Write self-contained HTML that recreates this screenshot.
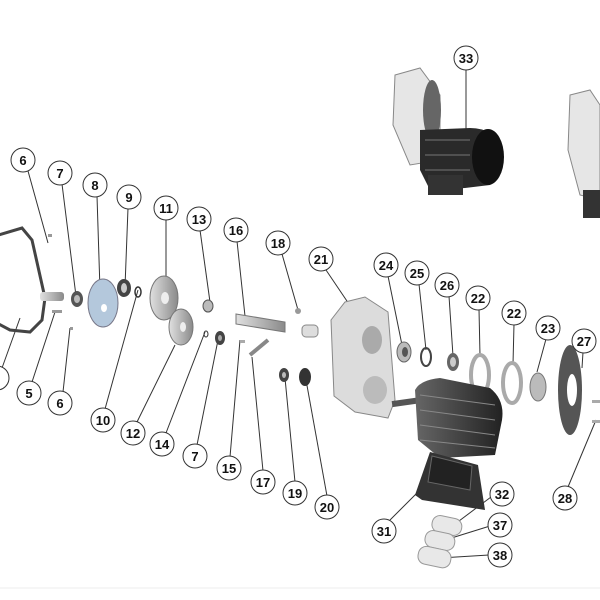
<!DOCTYPE html>
<html><head><style>
html,body{margin:0;padding:0;background:#fff;width:600px;height:600px;overflow:hidden}
svg{display:block}
text{font-family:"Liberation Sans",sans-serif;font-weight:bold;font-size:13px;text-anchor:middle;fill:#111}
.c{fill:#fff;stroke:#333;stroke-width:1}
.l{stroke:#333;stroke-width:1;fill:none}
</style></head><body>
<svg width="600" height="600" viewBox="0 0 600 600">
<defs>
<linearGradient id="g1" x1="0" x2="1"><stop offset="0" stop-color="#e0e0e0"/><stop offset="1" stop-color="#8a8a8a"/></linearGradient>
<linearGradient id="dk" x1="0" x2="1"><stop offset="0" stop-color="#666"/><stop offset="1" stop-color="#222"/></linearGradient>
</defs>
<line x1="0" y1="588" x2="600" y2="588" stroke="#eee"/>
<g class="l">
<line x1="28" y1="171" x2="48" y2="243"/>
<line x1="62" y1="184" x2="76" y2="296"/>
<line x1="97" y1="196" x2="100" y2="290"/>
<line x1="128" y1="208" x2="125" y2="287"/>
<line x1="166" y1="219" x2="166" y2="280"/>
<line x1="200" y1="230" x2="210" y2="302"/>
<line x1="237" y1="241" x2="245" y2="316"/>
<line x1="282" y1="254" x2="298" y2="310"/>
<line x1="326" y1="270" x2="353" y2="310"/>
<line x1="388" y1="276" x2="402" y2="345"/>
<line x1="419" y1="284" x2="426" y2="350"/>
<line x1="449" y1="296" x2="453" y2="356"/>
<line x1="479" y1="309" x2="480" y2="356"/>
<line x1="514" y1="324" x2="513" y2="364"/>
<line x1="546" y1="339" x2="537" y2="372"/>
<line x1="583" y1="352" x2="582" y2="368"/>
<line x1="466" y1="69" x2="466" y2="180"/>
<line x1="2" y1="368" x2="20" y2="318"/>
<line x1="32" y1="382" x2="55" y2="312"/>
<line x1="63" y1="392" x2="70" y2="328"/>
<line x1="105" y1="409" x2="138" y2="290"/>
<line x1="137" y1="422" x2="175" y2="345"/>
<line x1="166" y1="433" x2="205" y2="332"/>
<line x1="197" y1="445" x2="218" y2="340"/>
<line x1="230" y1="457" x2="240" y2="340"/>
<line x1="263" y1="471" x2="252" y2="357"/>
<line x1="295" y1="482" x2="285" y2="378"/>
<line x1="327" y1="496" x2="306" y2="380"/>
<line x1="390" y1="520" x2="420" y2="490"/>
<line x1="491" y1="497" x2="455" y2="524"/>
<line x1="490" y1="526" x2="445" y2="540"/>
<line x1="489" y1="555" x2="440" y2="558"/>
<line x1="568" y1="487" x2="596" y2="420"/>
</g>
<path d="M-5,236 L22,228 L32,240 L45,298 L42,320 L30,332 L10,330 L-5,322 Z" fill="none" stroke="#444" stroke-width="3"/>
<rect x="40" y="292" width="24" height="9" rx="3" fill="url(#g1)"/>
<rect x="48" y="234" width="4" height="3" fill="#999"/>
<rect x="52" y="310" width="10" height="3" fill="#999"/>
<rect x="70" y="327" width="3" height="3" fill="#999"/>
<ellipse cx="77" cy="299" rx="6" ry="8" fill="#555"/><ellipse cx="77" cy="299" rx="3" ry="4" fill="#bbb"/>
<ellipse cx="103" cy="303" rx="15" ry="24" fill="#b4c8dc" stroke="#778"/>
<ellipse cx="104" cy="308" rx="3" ry="4" fill="#fff"/>
<ellipse cx="124" cy="288" rx="7" ry="9" fill="#444"/><ellipse cx="124" cy="288" rx="3" ry="5" fill="#ccc"/>
<ellipse cx="138" cy="292" rx="3" ry="5" fill="none" stroke="#333" stroke-width="1.5"/>
<ellipse cx="164" cy="298" rx="14" ry="22" fill="url(#g1)" stroke="#777"/>
<ellipse cx="165" cy="298" rx="4" ry="6" fill="#eee"/>
<ellipse cx="181" cy="327" rx="12" ry="18" fill="url(#g1)" stroke="#777"/>
<ellipse cx="183" cy="327" rx="3" ry="5" fill="#eee"/>
<ellipse cx="208" cy="306" rx="5" ry="6" fill="#bbb" stroke="#555"/>
<ellipse cx="206" cy="334" rx="2" ry="3" fill="none" stroke="#333"/>
<ellipse cx="220" cy="338" rx="5" ry="7" fill="#444"/><ellipse cx="220" cy="338" rx="2" ry="3" fill="#aaa"/>
<path d="M236,314 L285,322 L285,332 L236,324 Z" fill="url(#g1)" stroke="#777"/>
<rect x="240" y="340" width="5" height="3" fill="#aaa"/>
<line x1="250" y1="355" x2="268" y2="340" stroke="#888" stroke-width="4"/>
<circle cx="298" cy="311" r="3" fill="#999"/>
<rect x="302" y="325" width="16" height="12" rx="4" fill="#ddd" stroke="#888"/>
<ellipse cx="284" cy="375" rx="5" ry="7" fill="#444"/><ellipse cx="284" cy="375" rx="2" ry="3" fill="#bbb"/>
<ellipse cx="305" cy="377" rx="6" ry="9" fill="#333"/>
<path d="M345,302 L365,297 L388,312 L395,400 L388,418 L355,412 L334,396 L331,320 Z" fill="#dcdcdc" stroke="#888"/>
<ellipse cx="372" cy="340" rx="10" ry="14" fill="#aaa"/>
<ellipse cx="375" cy="390" rx="12" ry="14" fill="#bbb"/>
<ellipse cx="404" cy="352" rx="7" ry="10" fill="#bbb" stroke="#666"/><ellipse cx="405" cy="352" rx="3" ry="5" fill="#555"/>
<ellipse cx="426" cy="357" rx="5" ry="9" fill="none" stroke="#444" stroke-width="2"/>
<ellipse cx="453" cy="362" rx="6" ry="9" fill="#666"/><ellipse cx="453" cy="362" rx="3" ry="5" fill="#ccc"/>
<ellipse cx="480" cy="375" rx="9" ry="20" fill="none" stroke="#aaa" stroke-width="4"/>
<ellipse cx="512" cy="383" rx="9" ry="20" fill="none" stroke="#aaa" stroke-width="4"/>
<ellipse cx="538" cy="387" rx="8" ry="14" fill="#bbb" stroke="#777"/>
<ellipse cx="570" cy="390" rx="12" ry="45" fill="#555"/><ellipse cx="572" cy="390" rx="5" ry="16" fill="#fff"/>
<rect x="592" y="400" width="8" height="3" fill="#aaa"/><rect x="592" y="420" width="8" height="3" fill="#aaa"/>
<rect x="392" y="400" width="26" height="6" fill="#555" transform="rotate(-8 400 403)"/>
<path d="M415,390 Q420,380 440,378 L490,388 Q505,400 502,420 L495,455 L440,458 L418,440 Z" fill="url(#dk)"/>
<g stroke="#888" stroke-width="1"><line x1="420" y1="395" x2="495" y2="405"/><line x1="420" y1="410" x2="495" y2="420"/><line x1="420" y1="425" x2="495" y2="435"/><line x1="420" y1="440" x2="495" y2="448"/></g>
<path d="M430,452 L478,465 L485,510 L422,500 L415,495 Z" fill="#333"/>
<path d="M432,456 L472,466 L470,490 L428,482 Z" fill="#222" stroke="#666"/>
<g fill="#e8e8e8" stroke="#999"><rect x="432" y="517" width="30" height="17" rx="8" transform="rotate(12 447 525)"/><rect x="425" y="532" width="30" height="17" rx="8" transform="rotate(12 440 540)"/><rect x="418" y="548" width="33" height="18" rx="8" transform="rotate(12 434 557)"/></g>
<path d="M395,75 L420,68 L440,95 L440,160 L410,165 L393,125 Z" fill="#e6e6e6" stroke="#888"/>
<ellipse cx="432" cy="110" rx="9" ry="30" fill="#666"/>
<path d="M420,130 L470,128 Q495,128 502,150 Q504,175 490,185 L465,188 L430,190 L420,170 Z" fill="#2a2a2a"/>
<ellipse cx="488" cy="157" rx="16" ry="28" fill="#111"/>
<rect x="428" y="175" width="35" height="20" fill="#333"/>
<g stroke="#777"><line x1="425" y1="140" x2="470" y2="140"/><line x1="425" y1="155" x2="470" y2="155"/><line x1="425" y1="170" x2="470" y2="170"/></g>
<path d="M570,95 L590,90 L600,105 L600,200 L580,195 L568,150 Z" fill="#e6e6e6" stroke="#888"/>
<rect x="583" y="190" width="17" height="28" fill="#333"/>
<g>
<circle class="c" cx="23" cy="160" r="12"/><text x="23" y="165">6</text>
<circle class="c" cx="60" cy="173" r="12"/><text x="60" y="178">7</text>
<circle class="c" cx="95" cy="185" r="12"/><text x="95" y="190">8</text>
<circle class="c" cx="129" cy="197" r="12"/><text x="129" y="202">9</text>
<circle class="c" cx="166" cy="208" r="12"/><text x="166" y="213">11</text>
<circle class="c" cx="199" cy="219" r="12"/><text x="199" y="224">13</text>
<circle class="c" cx="236" cy="230" r="12"/><text x="236" y="235">16</text>
<circle class="c" cx="278" cy="243" r="12"/><text x="278" y="248">18</text>
<circle class="c" cx="321" cy="259" r="12"/><text x="321" y="264">21</text>
<circle class="c" cx="386" cy="265" r="12"/><text x="386" y="270">24</text>
<circle class="c" cx="417" cy="273" r="12"/><text x="417" y="278">25</text>
<circle class="c" cx="447" cy="285" r="12"/><text x="447" y="290">26</text>
<circle class="c" cx="478" cy="298" r="12"/><text x="478" y="303">22</text>
<circle class="c" cx="514" cy="313" r="12"/><text x="514" y="318">22</text>
<circle class="c" cx="548" cy="328" r="12"/><text x="548" y="333">23</text>
<circle class="c" cx="584" cy="341" r="12"/><text x="584" y="346">27</text>
<circle class="c" cx="466" cy="58" r="12"/><text x="466" y="63">33</text>
<circle class="c" cx="-3" cy="378" r="12"/>
<circle class="c" cx="29" cy="393" r="12"/><text x="29" y="398">5</text>
<circle class="c" cx="60" cy="403" r="12"/><text x="60" y="408">6</text>
<circle class="c" cx="103" cy="420" r="12"/><text x="103" y="425">10</text>
<circle class="c" cx="133" cy="433" r="12"/><text x="133" y="438">12</text>
<circle class="c" cx="162" cy="444" r="12"/><text x="162" y="449">14</text>
<circle class="c" cx="195" cy="456" r="12"/><text x="195" y="461">7</text>
<circle class="c" cx="229" cy="468" r="12"/><text x="229" y="473">15</text>
<circle class="c" cx="263" cy="482" r="12"/><text x="263" y="487">17</text>
<circle class="c" cx="295" cy="493" r="12"/><text x="295" y="498">19</text>
<circle class="c" cx="327" cy="507" r="12"/><text x="327" y="512">20</text>
<circle class="c" cx="384" cy="531" r="12"/><text x="384" y="536">31</text>
<circle class="c" cx="502" cy="494" r="12"/><text x="502" y="499">32</text>
<circle class="c" cx="500" cy="525" r="12"/><text x="500" y="530">37</text>
<circle class="c" cx="500" cy="555" r="12"/><text x="500" y="560">38</text>
<circle class="c" cx="565" cy="498" r="12"/><text x="565" y="503">28</text>
</g>
</svg>
</body></html>
